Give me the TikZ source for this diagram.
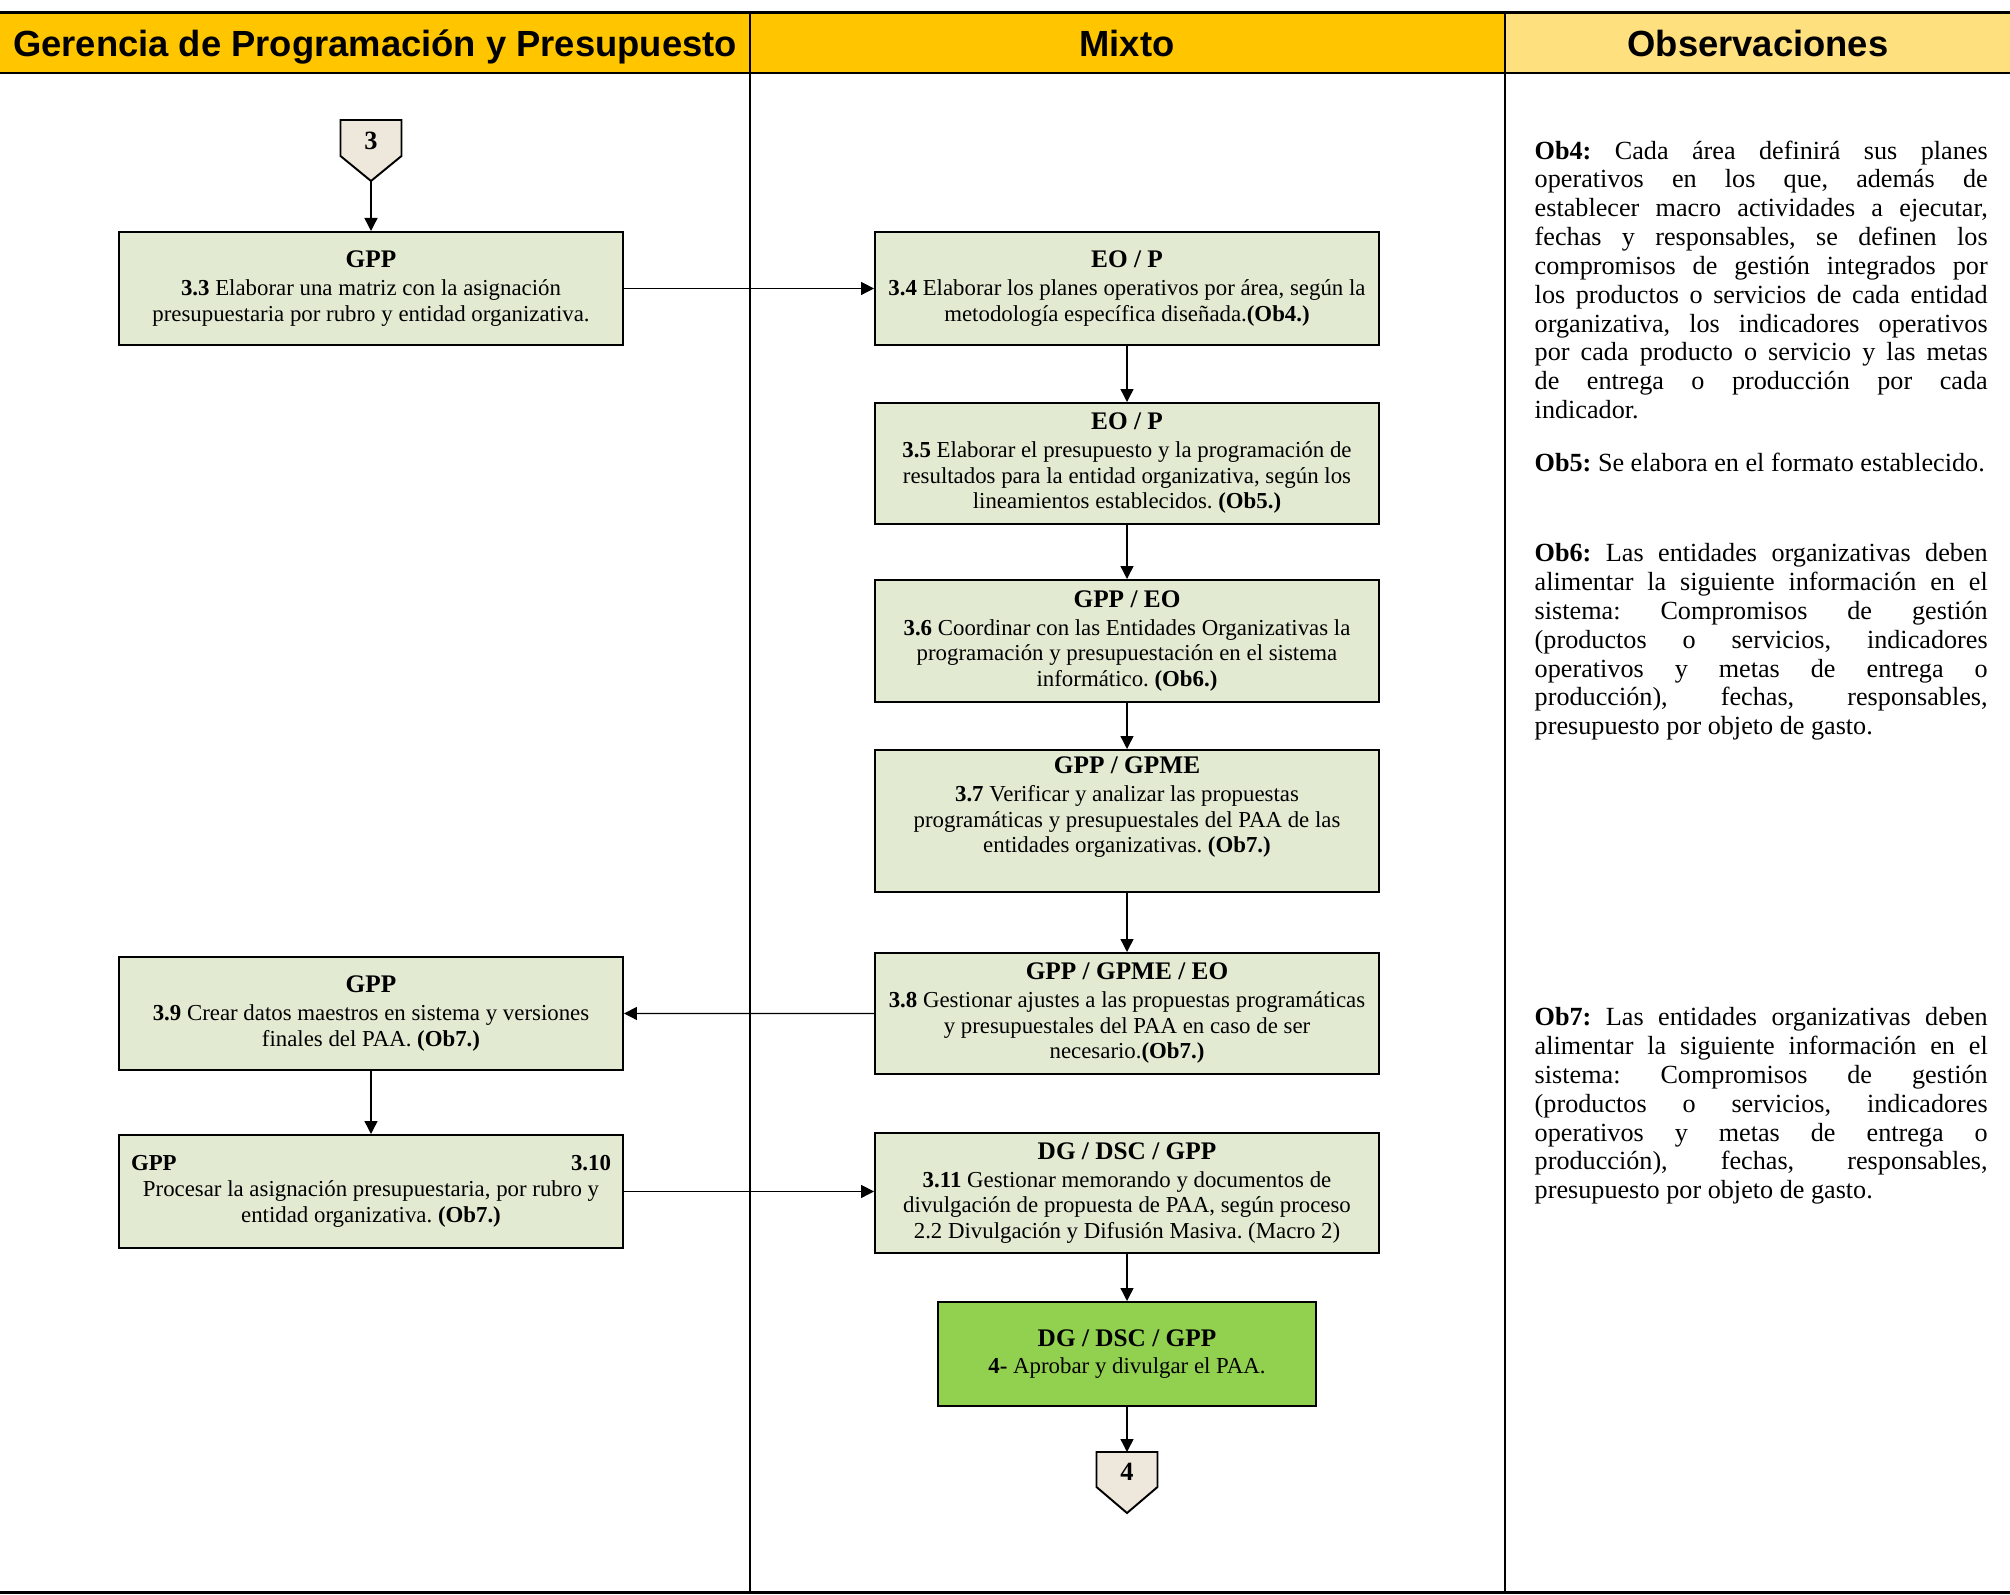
\documentclass[tikz,border=0pt]{standalone}
\usepackage{fontspec}
\setmainfont{Liberation Serif}
\newfontfamily\headfont{Liberation Sans}
\usetikzlibrary{arrows.meta}
\definecolor{hdrorange}{HTML}{FFC600}
\definecolor{hdrlight}{HTML}{FFE07F}
\definecolor{boxgreen}{HTML}{E2EAD2}
\definecolor{endgreen}{HTML}{92D050}
\definecolor{offfill}{HTML}{EEE8DC}
\newcommand{\boxtitle}[1]{{\fontsize{7.2}{7.3}\selectfont\bfseries #1}}
\frenchspacing

\begin{document}
\begin{tikzpicture}[x=0.1mm,y=-0.1mm,
  head/.style={font=\headfont\bfseries\fontsize{10.35}{12}\selectfont,inner sep=0pt,anchor=base},
  box/.style={draw,line width=0.55pt,fill=boxgreen,minimum width=50.4mm,anchor=north,align=center,inner sep=0.5mm,font=\fontsize{6.5}{7.3}\selectfont},
  obs/.style={anchor=north west,text width=45.3mm,align=justify,inner sep=0pt,font=\fontsize{7.45}{8.2}\selectfont},
  offpage/.style={draw,line width=0.55pt,fill=offfill,line join=miter},
  onum/.style={font=\fontsize{7.5}{8}\selectfont\bfseries,inner sep=0pt},
  arrow/.style={-{Triangle[length=1.3mm,width=1.3mm]},line width=0.4pt}
]
\useasboundingbox (0,0) rectangle (2010,1595);

% encabezado
\fill[hdrorange] (0,13) rectangle (1505,73);
\fill[hdrlight] (1505,13) rectangle (2010,73);
\draw[line width=0.3mm] (0,13) -- (2010,13);
\draw[line width=0.22mm] (0,73) -- (2010,73);
\draw[line width=0.25mm] (750,13) -- (750,1592);
\draw[line width=0.25mm] (1505,13) -- (1505,1592);
\draw[line width=0.3mm] (0,1592) -- (2010,1592);
\node[head] (h1) at (375,57) {Gerencia de Programación y Presupuesto};
\node[head] (h2) at (1127,57) {Mixto};
\node[head] (h3) at (1758,57) {Observaciones};

% conector 3
\coordinate (c3) at (371,138);
\draw[offpage] (c3) ++(-30.5,-18) -- ++(61,0) -- ++(0,36) -- ++(-30.5,25) -- ++(-30.5,-25) -- cycle;
\node[onum] (n3) at (371,141) {3};
\coordinate (c3tip) at (371,181);

\node[box,minimum height=11.3mm] (b33) at (371,231) {\boxtitle{GPP}\\[0.6pt]
  \textbf{3.3} Elaborar una matriz con la asignación\\
  presupuestaria por rubro y entidad organizativa.};
\node[box,minimum height=11.3mm] (b34) at (1127,231) {\boxtitle{EO / P}\\[0.6pt]
  \textbf{3.4} Elaborar los planes operativos por área, según la\\
  metodología específica diseñada.\textbf{(Ob4.)}};
\node[box,minimum height=12.1mm] (b35) at (1127,402) {\boxtitle{EO / P}\\[0.6pt]
  \textbf{3.5} Elaborar el presupuesto y la programación de\\
  resultados para la entidad organizativa, según los\\
  lineamientos establecidos. \textbf{(Ob5.)}};
\node[box,minimum height=12.2mm] (b36) at (1127,579) {\boxtitle{GPP / EO}\\[0.6pt]
  \textbf{3.6} Coordinar con las Entidades Organizativas la\\
  programación y presupuestación en el sistema\\
  informático. \textbf{(Ob6.)}};
\node[box,minimum height=14.2mm,text depth=3.2mm] (b37) at (1127,749) {\boxtitle{GPP / GPME}\\[0.6pt]
  \textbf{3.7} Verificar y analizar las propuestas\\
  programáticas y presupuestales del PAA de las\\
  entidades organizativas. \textbf{(Ob7.)}};
\node[box,minimum height=12.1mm] (b38) at (1127,952) {\boxtitle{GPP / GPME / EO}\\[0.6pt]
  \textbf{3.8} Gestionar ajustes a las propuestas programáticas\\
  y presupuestales del PAA en caso de ser\\
  necesario.\textbf{(Ob7.)}};
\node[box,minimum height=11.3mm] (b39) at (371,956) {\boxtitle{GPP}\\[0.6pt]
  \textbf{3.9} Crear datos maestros en sistema y versiones\\
  finales del PAA. \textbf{(Ob7.)}};
\node[box,minimum height=11.3mm] (b310) at (371,1134) {\makebox[48mm]{\textbf{GPP}\hfill\textbf{3.10}}\\
  Procesar la asignación presupuestaria, por rubro y\\
  entidad organizativa. \textbf{(Ob7.)}};
\node[box,minimum height=12mm] (b311) at (1127,1132) {\boxtitle{DG / DSC / GPP}\\[0.6pt]
  \textbf{3.11} Gestionar memorando y documentos de\\
  divulgación de propuesta de PAA, según proceso\\
  2.2 Divulgación y Difusión Masiva. (Macro 2)};
\node[box,fill=endgreen,minimum width=37.8mm,minimum height=10.4mm] (b4) at (1127,1301) {\boxtitle{DG / DSC / GPP}\\[0.6pt]
  \textbf{4-} Aprobar y divulgar el PAA.};

% conector 4
\coordinate (c4top) at (1127,1452);
\draw[offpage] (c4top) -- ++(30.5,0) -- ++(0,35) -- ++(-30.5,26) -- ++(-30.5,-26) -- ++(0,-35) -- cycle;
\node[onum] (n4) at (1127,1472) {4};

\draw[arrow] (c3tip) -- (b33);
\draw[arrow] (b33) -- (b34);
\draw[arrow] (b34) -- (b35);
\draw[arrow] (b35) -- (b36);
\draw[arrow] (b36) -- (b37);
\draw[arrow] (b37) -- (b38);
\draw[arrow] (b38) -- (b39);
\draw[arrow] (b39) -- (b310);
\draw[arrow] (b310.east) -- (b310.east -| b311.west);
\draw[arrow] (b311) -- (b4);
\draw[arrow] (b4) -- (c4top);

% observaciones
\node[obs] (ob4) at (1534,140) {\textbf{Ob4:} Cada área definirá sus planes\linebreak
  operativos en los que, además de\linebreak
  establecer macro actividades a ejecutar,\linebreak
  fechas y responsables, se definen los\linebreak
  compromisos de gestión integrados por\linebreak
  los productos o servicios de cada entidad\linebreak
  organizativa, los indicadores operativos\linebreak
  por cada producto o servicio y las metas\linebreak
  de entrega o producción por cada\linebreak
  indicador.};
\node[obs] (ob5) at (1534,452) {\textbf{Ob5:} Se elabora en el formato establecido.};
\node[obs] (ob6) at (1534,543) {\textbf{Ob6:} Las entidades organizativas deben\linebreak
  alimentar la siguiente información en el\linebreak
  sistema: Compromisos de gestión\linebreak
  (productos o servicios, indicadores\linebreak
  operativos y metas de entrega o\linebreak
  producción), fechas, responsables,\linebreak
  presupuesto por objeto de gasto.};
\node[obs] (ob7) at (1534,1007) {\textbf{Ob7:} Las entidades organizativas deben\linebreak
  alimentar la siguiente información en el\linebreak
  sistema: Compromisos de gestión\linebreak
  (productos o servicios, indicadores\linebreak
  operativos y metas de entrega o\linebreak
  producción), fechas, responsables,\linebreak
  presupuesto por objeto de gasto.};
\end{tikzpicture}
\end{document}
